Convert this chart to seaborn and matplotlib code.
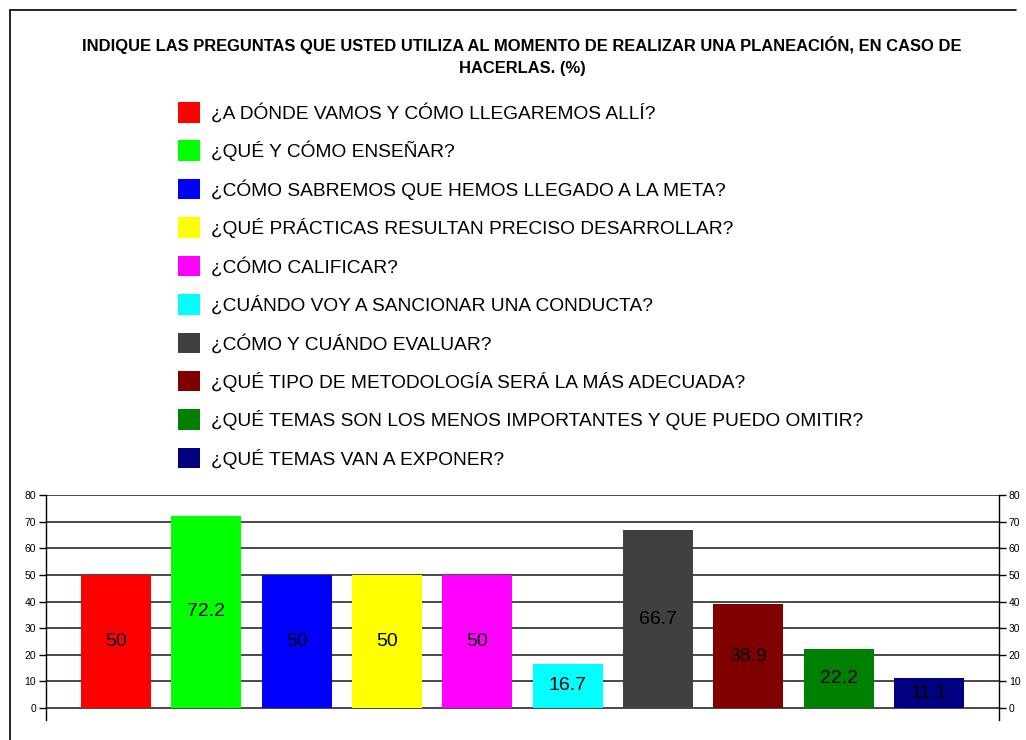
import matplotlib
matplotlib.use("Agg")
import matplotlib.pyplot as plt
import seaborn as sns
import pandas as pd
from matplotlib.patches import Patch
from matplotlib.lines import Line2D

preguntas = [
    "¿A DÓNDE VAMOS Y CÓMO LLEGAREMOS ALLÍ?",
    "¿QUÉ Y CÓMO ENSEÑAR?",
    "¿CÓMO SABREMOS QUE HEMOS LLEGADO A LA META?",
    "¿QUÉ PRÁCTICAS RESULTAN PRECISO DESARROLLAR?",
    "¿CÓMO CALIFICAR?",
    "¿CUÁNDO VOY A SANCIONAR UNA CONDUCTA?",
    "¿CÓMO Y CUÁNDO EVALUAR?",
    "¿QUÉ TIPO DE METODOLOGÍA SERÁ LA MÁS ADECUADA?",
    "¿QUÉ TEMAS SON LOS MENOS IMPORTANTES Y QUE PUEDO OMITIR?",
    "¿QUÉ TEMAS VAN A EXPONER?",
]
porcentajes = [50, 72.2, 50, 50, 50, 16.7, 66.7, 38.9, 22.2, 11.1]
colores = ["#FF0000", "#00FF00", "#0000FF", "#FFFF00", "#FF00FF",
           "#00FFFF", "#404040", "#800000", "#008000", "#000080"]
ticks_y = list(range(0, 81, 10))
titulo = ("INDIQUE LAS PREGUNTAS QUE USTED UTILIZA AL MOMENTO DE REALIZAR UNA PLANEACIÓN, EN CASO DE\n"
          "HACERLAS. (%)")

sns.set_theme(style="white")
plt.rcParams["font.family"] = ["Liberation Sans", "DejaVu Sans"]
plt.rcParams["text.color"] = "black"
plt.rcParams["ytick.color"] = "black"

df = pd.DataFrame({"pregunta": preguntas, "valor": porcentajes})

W, H = 1026, 740
fig = plt.figure(figsize=(W / 100, H / 100), dpi=100)
fig.patch.set_facecolor("white")

# marco de la hoja
fig.add_artist(Line2D([10 / W, 10 / W], [0, 1 - 10 / H], color="black", lw=1.2))
fig.add_artist(Line2D([10 / W, 1016 / W], [1 - 10 / H, 1 - 10 / H], color="black", lw=1.2))

fig.text(522 / W, 1 - 56 / H, titulo, ha="center", va="center", fontsize=11.9,
         fontweight="bold", linespacing=1.5)

# leyenda
handles = [Patch(facecolor=c, edgecolor="none") for c in colores]
fig.legend(handles, preguntas, loc="upper left", bbox_to_anchor=(178 / W, 1 - 102 / H),
           frameon=False, fontsize=13.8, labelspacing=0.925, handlelength=1.15,
           handleheight=1.27, handletextpad=0.55, borderpad=0, borderaxespad=0)

# grafico
ax = fig.add_axes([46 / W, 1 - 720 / H, 953 / W, 225 / H])
sns.barplot(data=df, x="pregunta", y="valor", hue="pregunta", palette=colores,
            legend=False, width=0.775, saturation=1, ax=ax, edgecolor="none")
ax.set_xlim(-0.775, 9.775)
ax.set_ylim(-4.5, 80)
ax.set_yticks(ticks_y)
ax.set_xticks([])
ax.set_xlabel("")
ax.set_ylabel("")
for y in ticks_y:
    ax.axhline(y, color="#3a3a3a", lw=1.3, zorder=0)
for s in ["top", "bottom", "right"]:
    ax.spines[s].set_visible(False)
ax.spines["left"].set_color("black")
ax.spines["left"].set_linewidth(1)
ax.tick_params(axis="y", direction="out", length=5, width=1, color="black",
               labelsize=7.5, pad=2, left=True)

ax2 = ax.twinx()
ax2.set_ylim(ax.get_ylim())
ax2.set_yticks(ticks_y)
for s in ["top", "bottom", "left"]:
    ax2.spines[s].set_visible(False)
ax2.spines["right"].set_color("black")
ax2.spines["right"].set_linewidth(1)
ax2.tick_params(axis="y", direction="out", length=5, width=1, color="black",
                labelsize=7.5, pad=2, right=True)

for i, v in enumerate(porcentajes):
    ax.text(i, v / 2, f"{v:g}", ha="center", va="center", fontsize=14, color="black")

fig.savefig("out.png", dpi=100, facecolor="white")
